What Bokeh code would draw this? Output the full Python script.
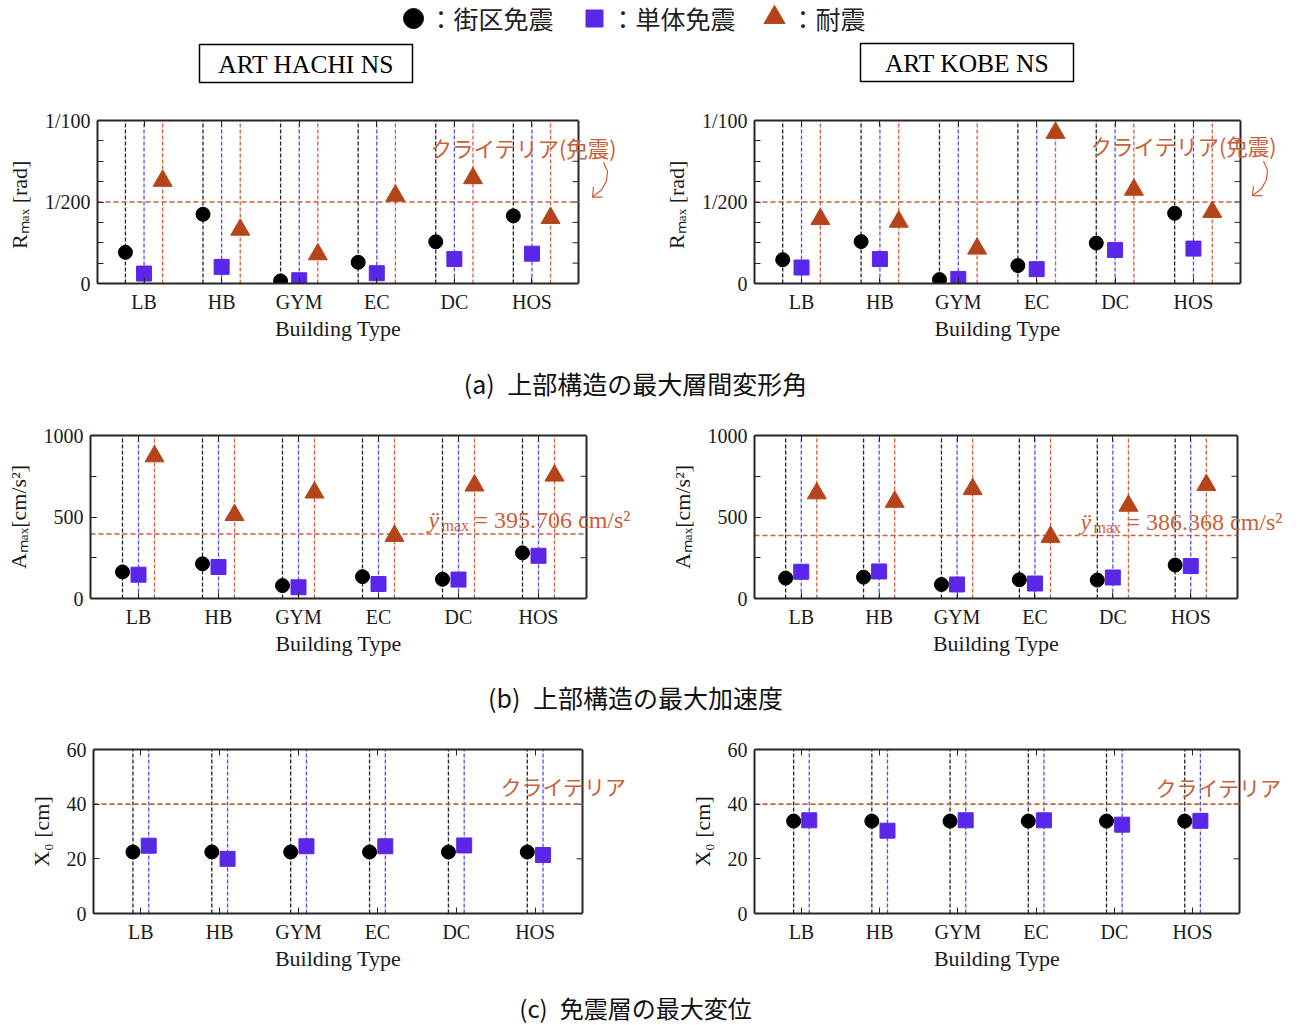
import numpy as np
from bokeh.plotting import figure
from bokeh.models import Range1d, FixedTicker, LinearAxis
from bokeh.layouts import column, row
from bokeh.embed import file_html
from bokeh.resources import INLINE
from bokeh.core.properties import value

# ---------------- data ----------------
categories = ["LB", "HB", "GYM", "EC", "DC", "HOS"]
legend_labels = ["：街区免震", "：単体免震", "：耐震"]
x_title = "Building Type"

# (a) maximum story drift angle R_max [rad]
hachi_R_block = [0.00191, 0.00425, 0.00016, 0.00130, 0.00256, 0.00415]
hachi_R_single = [0.00061, 0.00102, 0.00020, 0.00063, 0.00150, 0.00183]
hachi_R_conv = [0.00630, 0.00330, 0.00179, 0.00539, 0.00646, 0.00402]
kobe_R_block = [0.00146, 0.00257, 0.00024, 0.00110, 0.00248, 0.00431]
kobe_R_single = [0.00098, 0.00150, 0.00028, 0.00088, 0.00206, 0.00214]
kobe_R_conv = [0.00395, 0.00379, 0.00214, 0.00924, 0.00575, 0.00439]
R_criteria = 1 / 200

# (b) maximum acceleration A_max [cm/s^2]
hachi_A_block = [163, 213, 79, 134, 118, 280]
hachi_A_single = [146, 193, 69, 89, 116, 262]
hachi_A_conv = [872, 512, 650, 384, 693, 754]
kobe_A_block = [125, 131, 86, 115, 113, 205]
kobe_A_single = [164, 166, 86, 92, 129, 199]
kobe_A_conv = [645, 593, 671, 378, 569, 696]
hachi_pga = 395.706
kobe_pga = 386.368

# (c) maximum isolation displacement X0 [cm]
hachi_X_block = [22.5, 22.5, 22.5, 22.5, 22.5, 22.5]
hachi_X_single = [24.8, 20.0, 24.6, 24.6, 24.9, 21.4]
kobe_X_block = [33.8, 33.8, 33.8, 33.8, 33.8, 33.8]
kobe_X_single = [34.1, 30.3, 34.1, 34.1, 32.5, 33.9]
X_criteria = 40

R_ticks = [0, 0.005, 0.01]
R_minor = [0.00125 * k for k in range(9)]
R_labels = {0: "0", 0.005: "1/200", 0.01: "1/100"}
A_ticks = [0, 500, 1000]
A_minor = [0, 250, 500, 750, 1000]
A_labels = {0: "0", 500: "500", 1000: "1000"}
X_ticks = [0, 20, 40, 60]
X_labels = {0: "0", 20: "20", 40: "40", 60: "60"}

# ---------------- styles ----------------
SERIF = "Liberation Serif"
CJK = "Noto Sans CJK JP"
AX = "#262626"
C_BLOCK = "black"
C_SINGLE = "#5a27e8"
C_CONV = "#b5441b"
L_BLOCK = "#222222"
L_SINGLE = "#5050f0"
L_CONV = "#d0603c"
C_CRIT = "#c8603a"
X0, X1 = 0.4, 6.6
TICK = 6

# page-pixel geometry: row spans and frame boxes (L, T, R, B)
ROWS = {"a": (95, 350), "b": (415, 665), "c": (728, 978)}
FRAMES = {
    "a1": (97, 120, 578, 284), "a2": (754, 118, 1240, 283),
    "b1": (90, 432, 586, 600), "b2": (754, 435, 1237, 598),
    "c1": (93, 749, 582, 914), "c2": (754, 749, 1239, 913),
}


def to_data(key, yr, px, py):
    L, T, R, B = FRAMES[key]
    x = X0 + (px - L) / (R - L) * (X1 - X0)
    y = yr[1] - (py - T) / (B - T) * (yr[1] - yr[0])
    return x, y


def style_axis(ax, size="20px"):
    ax.major_tick_in = TICK
    ax.major_tick_out = 0
    ax.minor_tick_in = TICK
    ax.minor_tick_out = 0
    ax.major_tick_line_color = AX
    ax.minor_tick_line_color = AX
    ax.major_label_text_font = SERIF
    ax.major_label_text_font_size = size
    ax.major_label_text_color = "#1a1a1a"
    ax.axis_label_text_font = SERIF
    ax.axis_label_text_font_size = "22px"
    ax.axis_label_text_font_style = "normal"
    ax.axis_label_text_color = "#1a1a1a"


def make_panel(key, yr, yticks, yminor, ylabels, ylab, series, offsets, crit):
    fy0, fy1 = ROWS[key[0]]
    fx0, fx1 = (0, 650) if key[1] == "1" else (650, 1300)
    L, T, R, B = FRAMES[key]
    xend = X0 + (fx1 - L) * (X1 - X0) / (R - L)
    p = figure(width=fx1 - fx0, height=fy1 - fy0,
               x_range=Range1d(X0, xend), y_range=Range1d(*yr),
               min_border_left=L - fx0, min_border_right=0,
               min_border_top=T - fy0, min_border_bottom=fy1 - B,
               x_axis_type=None, y_axis_type=None,
               output_backend="svg", toolbar_location=None)
    p.grid.visible = False
    p.outline_line_color = None
    p.background_fill_color = "white"
    p.border_fill_color = "white"

    cat_ticks = list(range(1, len(categories) + 1))
    xa = LinearAxis(ticker=FixedTicker(ticks=cat_ticks), bounds=(X0, X1),
                    major_label_overrides={i + 1: c for i, c in enumerate(categories)})
    xt = LinearAxis(ticker=FixedTicker(ticks=cat_ticks), bounds=(X0, X1),
                    major_label_overrides={i + 1: "" for i in range(len(categories))})
    ya = LinearAxis(ticker=FixedTicker(ticks=yticks, minor_ticks=yminor),
                    major_label_overrides=ylabels, axis_label=ylab)
    for ax in (xa, xt, ya):
        style_axis(ax)
        ax.axis_line_color = AX
        ax.axis_line_width = 2
    xt.major_label_text_font_size = "1px"
    xt.major_label_standoff = 0
    xa.major_label_standoff = 7
    ya.major_label_standoff = 7
    ya.axis_label_standoff = 10
    # x-axis title centred under the visible box, as a single tick label
    xc = (X0 + X1) / 2
    xl = LinearAxis(ticker=FixedTicker(ticks=[xc]), major_label_overrides={xc: x_title})
    style_axis(xl, "22px")
    xl.major_tick_in = 0
    xl.axis_line_color = None
    xl.major_tick_line_color = None
    xl.major_label_standoff = 0
    p.add_layout(xa, "below")
    p.add_layout(xl, "below")
    p.add_layout(xt, "above")
    p.add_layout(ya, "left")

    # right edge of the box and its mirrored ticks
    p.segment(x0=[X1], y0=[yr[0]], x1=[X1], y1=[yr[1]], line_color=AX, line_width=2)
    mt = sorted(set(list(yticks) + list(yminor)))
    dx = TICK * (X1 - X0) / (R - L)
    p.segment(x0=[X1 - dx] * len(mt), y0=mt, x1=[X1] * len(mt), y1=mt,
              line_color=AX, line_width=1)

    idx = np.arange(1, len(categories) + 1)
    styles = [
        ("circle", 14, C_BLOCK, L_BLOCK),
        ("square", 15, C_SINGLE, L_SINGLE),
        ("triangle", 19, C_CONV, L_CONV),
    ]
    for vals, off, st in zip(series, offsets, styles):
        xs = idx + off
        p.segment(x0=xs, y0=[yr[0]] * len(xs), x1=xs, y1=[yr[1]] * len(xs),
                  line_color=st[3], line_dash="4 2", line_width=1.3)
    p.segment(x0=[X0], y0=[crit], x1=[X1], y1=[crit], line_color=C_CRIT,
              line_dash="5 3", line_width=1.6)
    for vals, off, st in zip(series, offsets, styles):
        xs = idx + off
        p.scatter(x=xs, y=vals, marker=st[0], size=st[1],
                  fill_color=st[2], line_color=st[2])
    return p


def put_text(p, key, yr, px, py, text, font, size, style="normal"):
    x, y = to_data(key, yr, px, py)
    p.text(x=[x], y=[y], text=[text], text_font=value(font), text_font_size=size,
           text_font_style=style, text_color=C_CRIT,
           text_align="left", text_baseline="middle")


def crit_arrow(p, key, yr, dx, dy):
    path = [(603, 162), (607, 171), (606, 181), (601, 190), (592, 197)]
    heads = [[(593, 187), (592, 197), (602, 197)]]
    for pts in [path] + heads:
        xs, ys = zip(*[to_data(key, yr, px + dx, py + dy) for px, py in pts])
        p.line(x=list(xs), y=list(ys), line_color=C_CRIT, line_width=1.2)


def pga_label(p, key, yr, px, py, val):
    put_text(p, key, yr, px, py, "ÿ", SERIF, "24px", "italic")
    put_text(p, key, yr, px + 13, py + 6, "max", SERIF, "16px")
    put_text(p, key, yr, px + 46, py, f"= {val:.3f} cm/s²", SERIF, "24px")


Ryr = (0, 0.01)
Ayr = (0, 1000)
Xyr = (0, 60)
offs3a = [-0.24, 0.0, 0.24]
offs3b = [-0.2, 0.0, 0.2]
offs2 = [-0.1, 0.1]

a1 = make_panel("a1", Ryr, R_ticks, R_minor, R_labels, "Rₘₐₓ  [rad]",
                [hachi_R_block, hachi_R_single, hachi_R_conv], offs3a, R_criteria)
a2 = make_panel("a2", Ryr, R_ticks, R_minor, R_labels, "Rₘₐₓ  [rad]",
                [kobe_R_block, kobe_R_single, kobe_R_conv], offs3a, R_criteria)
put_text(a1, "a1", Ryr, 430, 147, "クライテリア(免震)", CJK, "21.5px")
put_text(a2, "a2", Ryr, 1090, 143, "クライテリア(免震)", CJK, "21.5px")
crit_arrow(a1, "a1", Ryr, 0, 0)
crit_arrow(a2, "a2", Ryr, 660, -3)

b1 = make_panel("b1", Ayr, A_ticks, A_minor, A_labels, "Aₘₐₓ[cm/s²]",
                [hachi_A_block, hachi_A_single, hachi_A_conv], offs3b, hachi_pga)
b2 = make_panel("b2", Ayr, A_ticks, A_minor, A_labels, "Aₘₐₓ[cm/s²]",
                [kobe_A_block, kobe_A_single, kobe_A_conv], offs3b, kobe_pga)
pga_label(b1, "b1", Ayr, 428, 519, hachi_pga)
pga_label(b2, "b2", Ayr, 1080, 521, kobe_pga)

c1 = make_panel("c1", Xyr, X_ticks, [], X_labels, "X₀ [cm]",
                [hachi_X_block, hachi_X_single], offs2, X_criteria)
c2 = make_panel("c2", Xyr, X_ticks, [], X_labels, "X₀ [cm]",
                [kobe_X_block, kobe_X_single], offs2, X_criteria)
put_text(c1, "c1", Xyr, 500, 786, "クライテリア", CJK, "21px")
put_text(c2, "c2", Xyr, 1155, 786, "クライテリア", CJK, "21px")


def canvas(w, h):
    p = figure(width=w, height=h, x_range=Range1d(0, w), y_range=Range1d(h, 0),
               min_border=0, x_axis_type=None, y_axis_type=None,
               output_backend="svg", toolbar_location=None)
    p.grid.visible = False
    p.outline_line_color = None
    p.background_fill_color = "white"
    p.border_fill_color = "white"
    return p


# header: legend + record titles (page pixel coordinates)
head = canvas(1300, 95)
head.scatter(x=[413], y=[18], marker="circle", size=20, color=C_BLOCK)
head.scatter(x=[594], y=[18], marker="square", size=17, color=C_SINGLE)
head.scatter(x=[774], y=[17], marker="triangle", size=21, color=C_CONV)
head.text(x=[428, 610, 790], y=[17, 17, 17], text=legend_labels,
          text_font=value(CJK), text_font_size="25px", text_color="#222222",
          text_align="left", text_baseline="middle")
head.rect(x=[305.5, 966.5], y=[63, 62], width=213, height=38,
          fill_color=None, line_color="black", line_width=1.5)
head.text(x=[305.5, 966.5], y=[64, 63], text=["ART HACHI NS", "ART KOBE NS"],
          text_font=value(SERIF), text_font_size="25.5px", text_color="black",
          text_align="center", text_baseline="middle")


def caption(y0, y1, yc, txt, size="25px"):
    p = canvas(1300, y1 - y0)
    p.text(x=[635], y=[yc - y0], text=[txt], text_font=value(CJK), text_font_size=size,
           text_color="#111111", text_align="center", text_baseline="middle")
    return p


cap_a = caption(350, 415, 382, "(a)\u2002上部構造の最大層間変形角")
cap_b = caption(665, 728, 696, "(b)\u2002上部構造の最大加速度")
cap_c = caption(978, 1025, 1007, "(c)\u2002免震層の最大変位", "24px")

layout = column(head, row(a1, a2), cap_a, row(b1, b2), cap_b, row(c1, c2), cap_c)
open("out.html", "w").write(file_html(layout, INLINE))
